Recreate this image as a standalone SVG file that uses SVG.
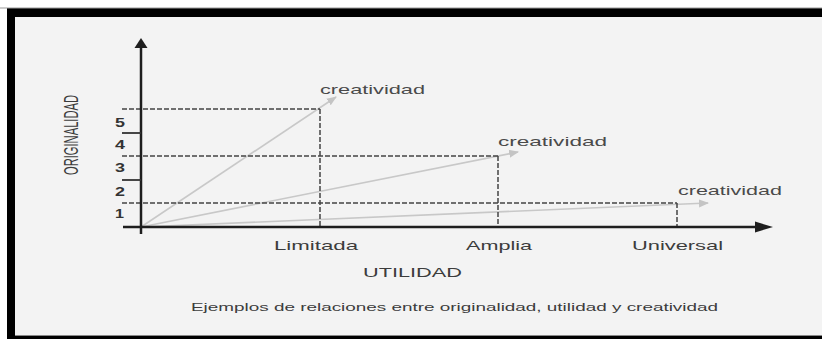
<svg xmlns="http://www.w3.org/2000/svg" width="822" height="339" viewBox="0 0 822 339">
  <defs>
    <marker id="ah" viewBox="0 0 10 10" refX="9" refY="5" markerWidth="10" markerHeight="10" markerUnits="userSpaceOnUse" orient="auto">
      <path d="M0,1 L10,5 L0,9 Z" fill="#c4c4c4"/>
    </marker>
  </defs>
  <style>
    .lbl { font-family: "Liberation Sans", Arial, sans-serif; fill: #3c3c3c; font-size: 13px; }
    .cre { font-family: "Liberation Sans", Arial, sans-serif; fill: #4a4a4a; font-size: 13px; }
    .num { font-family: "Liberation Sans", Arial, sans-serif; fill: #333; font-size: 12px; font-weight: bold; }
    .axis { stroke: #1e1e1e; stroke-width: 2.5; fill: none; }
    .tick { stroke: #333; stroke-width: 1.8; }
    .dash { stroke: #444; stroke-width: 1.5; stroke-dasharray: 5 2; fill: none; }
    .ray { stroke: #c8c8c8; stroke-width: 1.6; fill: none; }
  </style>
  <rect x="0" y="0" width="822" height="339" fill="#ffffff"/>
  <rect x="7" y="8" width="815" height="331" fill="#000000"/>
  <rect x="15" y="17" width="807" height="319" fill="#f3f3f3"/>
  <line x1="0" y1="8" x2="822" y2="8" stroke="#999" stroke-width="1"/>
  <line x1="15" y1="335.5" x2="822" y2="335.5" stroke="#888" stroke-width="1"/>

  <g id="connectors">
    <line class="ray" x1="141" y1="227" x2="336" y2="97" marker-end="url(#ah)"/>
    <line class="ray" x1="141" y1="227" x2="518" y2="152" marker-end="url(#ah)"/>
    <line class="ray" x1="141" y1="227" x2="708" y2="203" marker-end="url(#ah)"/>
    <line class="dash" x1="122" y1="109" x2="320" y2="109"/>
    <line class="dash" x1="122" y1="156" x2="498" y2="156"/>
    <line class="dash" x1="122" y1="203" x2="677" y2="203"/>
    <line class="dash" x1="320" y1="109" x2="320" y2="227"/>
    <line class="dash" x1="498" y1="156" x2="498" y2="227"/>
    <line class="dash" x1="677" y1="203" x2="677" y2="227"/>
  </g>

  <g id="axes">
    <line class="axis" x1="141" y1="46" x2="141" y2="234"/>
    <path d="M141,38 L147.5,48 L134.5,48 Z" fill="#1e1e1e"/>
    <line class="axis" x1="123" y1="227" x2="756" y2="227"/>
    <path d="M773,227 L755,221.5 L755,232.5 Z" fill="#1e1e1e"/>
    <line class="tick" x1="122" y1="133" x2="141" y2="133"/>
    <line class="tick" x1="122" y1="180" x2="141" y2="180"/>
  </g>

  <g id="y-labels">
    <text class="num" x="115" y="127" textLength="10" lengthAdjust="spacingAndGlyphs">5</text>
    <text class="num" x="115" y="149" textLength="10" lengthAdjust="spacingAndGlyphs">4</text>
    <text class="num" x="115" y="172" textLength="10" lengthAdjust="spacingAndGlyphs">3</text>
    <text class="num" x="115" y="196" textLength="10" lengthAdjust="spacingAndGlyphs">2</text>
    <text class="num" x="115" y="218" textLength="9" lengthAdjust="spacingAndGlyphs">1</text>
    <text class="lbl" transform="translate(78,135) rotate(-90)" text-anchor="middle" style="font-size:20px" textLength="80" lengthAdjust="spacingAndGlyphs">ORIGINALIDAD</text>
  </g>

  <g id="node-limitada">
    <text class="cre" x="320" y="94" textLength="105" lengthAdjust="spacingAndGlyphs">creatividad</text>
    <text class="lbl" x="274" y="250" textLength="84" lengthAdjust="spacingAndGlyphs">Limitada</text>
  </g>
  <g id="node-amplia">
    <text class="cre" x="498" y="146" textLength="109" lengthAdjust="spacingAndGlyphs">creatividad</text>
    <text class="lbl" x="466" y="250" textLength="66" lengthAdjust="spacingAndGlyphs">Amplia</text>
  </g>
  <g id="node-universal">
    <text class="cre" x="678" y="195" textLength="104" lengthAdjust="spacingAndGlyphs">creatividad</text>
    <text class="lbl" x="632" y="250" textLength="91" lengthAdjust="spacingAndGlyphs">Universal</text>
  </g>

  <g id="titles">
    <text class="lbl" x="363" y="277" textLength="99" lengthAdjust="spacingAndGlyphs">UTILIDAD</text>
    <text class="lbl" x="191" y="311" style="font-size:10.5px" textLength="527" lengthAdjust="spacingAndGlyphs">Ejemplos de relaciones entre originalidad, utilidad y creatividad</text>
  </g>
</svg>
